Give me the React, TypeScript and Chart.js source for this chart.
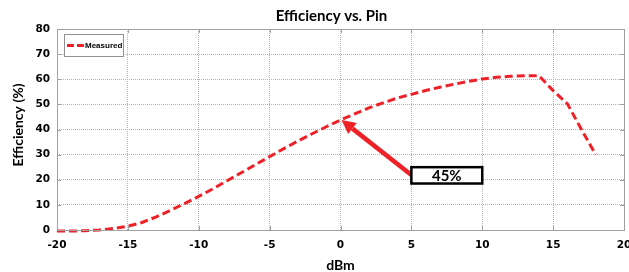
import React, { useEffect, useRef } from "react";
import { Chart, registerables } from "chart.js";

Chart.register(...registerables);

const pinDbm = [-20, -19, -18, -17, -16, -15, -14, -13, -12, -11, -10, -9, -8, -7, -6, -5, -4, -3, -2, -1, 0, 1, 2, 3, 4, 5, 6, 7, 8, 9, 10, 11, 12, 13, 14, 15, 16, 17, 18];
const efficiency = [-0.4, -0.4, -0.3, 0, 0.6, 1.5, 3, 5.2, 7.8, 10.5, 13.4, 16.4, 19.6, 22.8, 26, 29.2, 32.4, 35.4, 38.3, 41.1, 43.8, 46.2, 48.6, 50.6, 52.5, 54, 55.5, 56.8, 58, 59.1, 60.1, 60.8, 61.2, 61.4, 61.4, 55.5, 50.3, 40, 30];
const xTicks = [-20, -15, -10, -5, 0, 5, 10, 15, 20];
const yTicks = [0, 10, 20, 30, 40, 50, 60, 70, 80];
const titleText = "Efficiency vs. Pin";
const xTitle = "dBm";
const yTitle = "Efficiency (%)";
const seriesName = "Measured";
const annotationLabel = "45%";
const annotationPoint = { x: 0, y: 43.8 };
const annotationBoxFrom = { x: 5, y: 25 };
const annotationBoxTo = { x: 10, y: 18.5 };

const RED = "rgb(238,32,40)";

const decorPlugin = {
  id: "decor",
  afterDraw(chart: any) {
    const { ctx, chartArea: a, scales } = chart;
    const xs = scales.x, ys = scales.y;
    ctx.save();
    // border
    ctx.strokeStyle = "#a0a0a0";
    ctx.lineWidth = 1;
    ctx.setLineDash([]);
    ctx.strokeRect(Math.round(a.left) + 0.5, Math.round(a.top) + 0.5, Math.round(a.right - a.left), Math.round(a.bottom - a.top));
    // inward ticks
    ctx.beginPath();
    for (const t of yTicks) {
      const y = Math.round(ys.getPixelForValue(t)) + 0.5;
      ctx.moveTo(a.left, y); ctx.lineTo(a.left + 4, y);
      ctx.moveTo(a.right, y); ctx.lineTo(a.right - 4, y);
    }
    for (const t of xTicks) {
      const x = Math.round(xs.getPixelForValue(t)) + 0.5;
      ctx.moveTo(x, a.bottom); ctx.lineTo(x, a.bottom - 4);
      ctx.moveTo(x, a.top); ctx.lineTo(x, a.top + 4);
    }
    ctx.stroke();

    // title
    const cx = (a.left + a.right) / 2;
    ctx.fillStyle = "#000";
    ctx.textAlign = "center";
    ctx.textBaseline = "middle";
    ctx.font = "bold 15px Lato";
    ctx.fillText(titleText, cx - 9, 16);
    // x title
    ctx.font = "bold 14px Lato";
    ctx.fillText(xTitle, cx, 265);
    // y title
    ctx.save();
    ctx.translate(18, 125);
    ctx.rotate(-Math.PI / 2);
    ctx.font = "bold 14px Lato";
    ctx.fillText(yTitle, 0, 0);
    ctx.restore();

    // legend
    const lx = a.left + 7, ly = a.top + 5, lw = 59, lh = 22;
    ctx.fillStyle = "#fff";
    ctx.fillRect(lx, ly, lw, lh);
    ctx.strokeStyle = "#909090";
    ctx.lineWidth = 1;
    ctx.strokeRect(lx + 0.5, ly + 0.5, lw, lh);
    ctx.strokeStyle = RED;
    ctx.lineWidth = 3;
    ctx.setLineDash([7, 3]);
    ctx.beginPath();
    ctx.moveTo(lx + 3, ly + 11.5);
    ctx.lineTo(lx + 20, ly + 11.5);
    ctx.stroke();
    ctx.setLineDash([]);
    ctx.fillStyle = "#000";
    ctx.textAlign = "left";
    ctx.font = "bold 8px 'Liberation Sans'";
    ctx.fillText(seriesName, lx + 21, ly + 12);

    // annotation arrow
    const px = xs.getPixelForValue(annotationPoint.x) + 1;
    const py = ys.getPixelForValue(annotationPoint.y);
    const bx1 = xs.getPixelForValue(annotationBoxFrom.x);
    const by1 = ys.getPixelForValue(annotationBoxFrom.y);
    const bx2 = xs.getPixelForValue(annotationBoxTo.x);
    const by2 = ys.getPixelForValue(annotationBoxTo.y);
    const sx = bx1, sy = by1 + (by2 - by1) * 0.48;
    const ang = Math.atan2(py - sy, px - sx);
    const headLen = 14, headW = 7;
    const hx = px - Math.cos(ang) * headLen, hy = py - Math.sin(ang) * headLen;
    ctx.strokeStyle = RED;
    ctx.fillStyle = RED;
    ctx.lineWidth = 4.5;
    ctx.beginPath();
    ctx.moveTo(sx, sy);
    ctx.lineTo(hx, hy);
    ctx.stroke();
    ctx.beginPath();
    ctx.moveTo(px, py);
    ctx.lineTo(hx + Math.sin(ang) * headW, hy - Math.cos(ang) * headW);
    ctx.lineTo(hx - Math.sin(ang) * headW, hy + Math.cos(ang) * headW);
    ctx.closePath();
    ctx.fill();
    // box
    ctx.fillStyle = "#fff";
    ctx.fillRect(bx1, by1, bx2 - bx1, by2 - by1);
    ctx.strokeStyle = "#000";
    ctx.lineWidth = 2.5;
    ctx.strokeRect(bx1, by1, bx2 - bx1, by2 - by1);
    ctx.fillStyle = "#000";
    ctx.textAlign = "center";
    ctx.font = "bold 15px Lato";
    ctx.fillText(annotationLabel, (bx1 + bx2) / 2, (by1 + by2) / 2 + 1);
    ctx.restore();
  },
};

export default function App() {
  const ref = useRef<HTMLCanvasElement>(null);
  useEffect(() => {
    document.body.style.margin = "0";
    const chart = new Chart(ref.current!, {
      type: "line",
      data: {
        datasets: [
          {
            label: seriesName,
            data: pinDbm.map((x, i) => ({ x, y: efficiency[i] })),
            borderColor: RED,
            borderWidth: 3,
            borderDash: [8, 4],
            pointRadius: 0,
            tension: 0,
            fill: false,
            clip: false as any,
          },
        ],
      },
      options: {
        responsive: false,
        animation: false,
        layout: { padding: { top: 29, right: 5, left: 0, bottom: 0 } },
        plugins: { legend: { display: false }, title: { display: false }, tooltip: { enabled: false } },
        scales: {
          x: {
            type: "linear",
            min: -20,
            max: 20,
            afterBuildTicks: (s: any) => { s.ticks = xTicks.map((v) => ({ value: v })); },
            afterFit: (s: any) => { s.height = 42; s.paddingLeft = 0; s.paddingRight = 0; },
            ticks: { color: "#000", font: { family: "DejaVu Sans", weight: "bold", size: 10.5 }, padding: 9, maxRotation: 0 },
            grid: { color: "#b4b4b4", lineWidth: 1, drawTicks: false },
            border: { display: false, dash: [1, 1] },
          },
          y: {
            min: 0,
            max: 80,
            afterBuildTicks: (s: any) => { s.ticks = yTicks.map((v) => ({ value: v })); },
            afterFit: (s: any) => { s.width = 57; s.paddingTop = 0; s.paddingBottom = 0; },
            ticks: { color: "#000", font: { family: "DejaVu Sans", weight: "bold", size: 10.5 }, padding: 7 },
            grid: { color: "#b4b4b4", lineWidth: 1, drawTicks: false },
            border: { display: false, dash: [1, 1] },
          },
        },
      },
      plugins: [decorPlugin],
    });
    return () => chart.destroy();
  }, []);
  return <canvas ref={ref} width={629} height={272} style={{ display: "block" }} />;
}
